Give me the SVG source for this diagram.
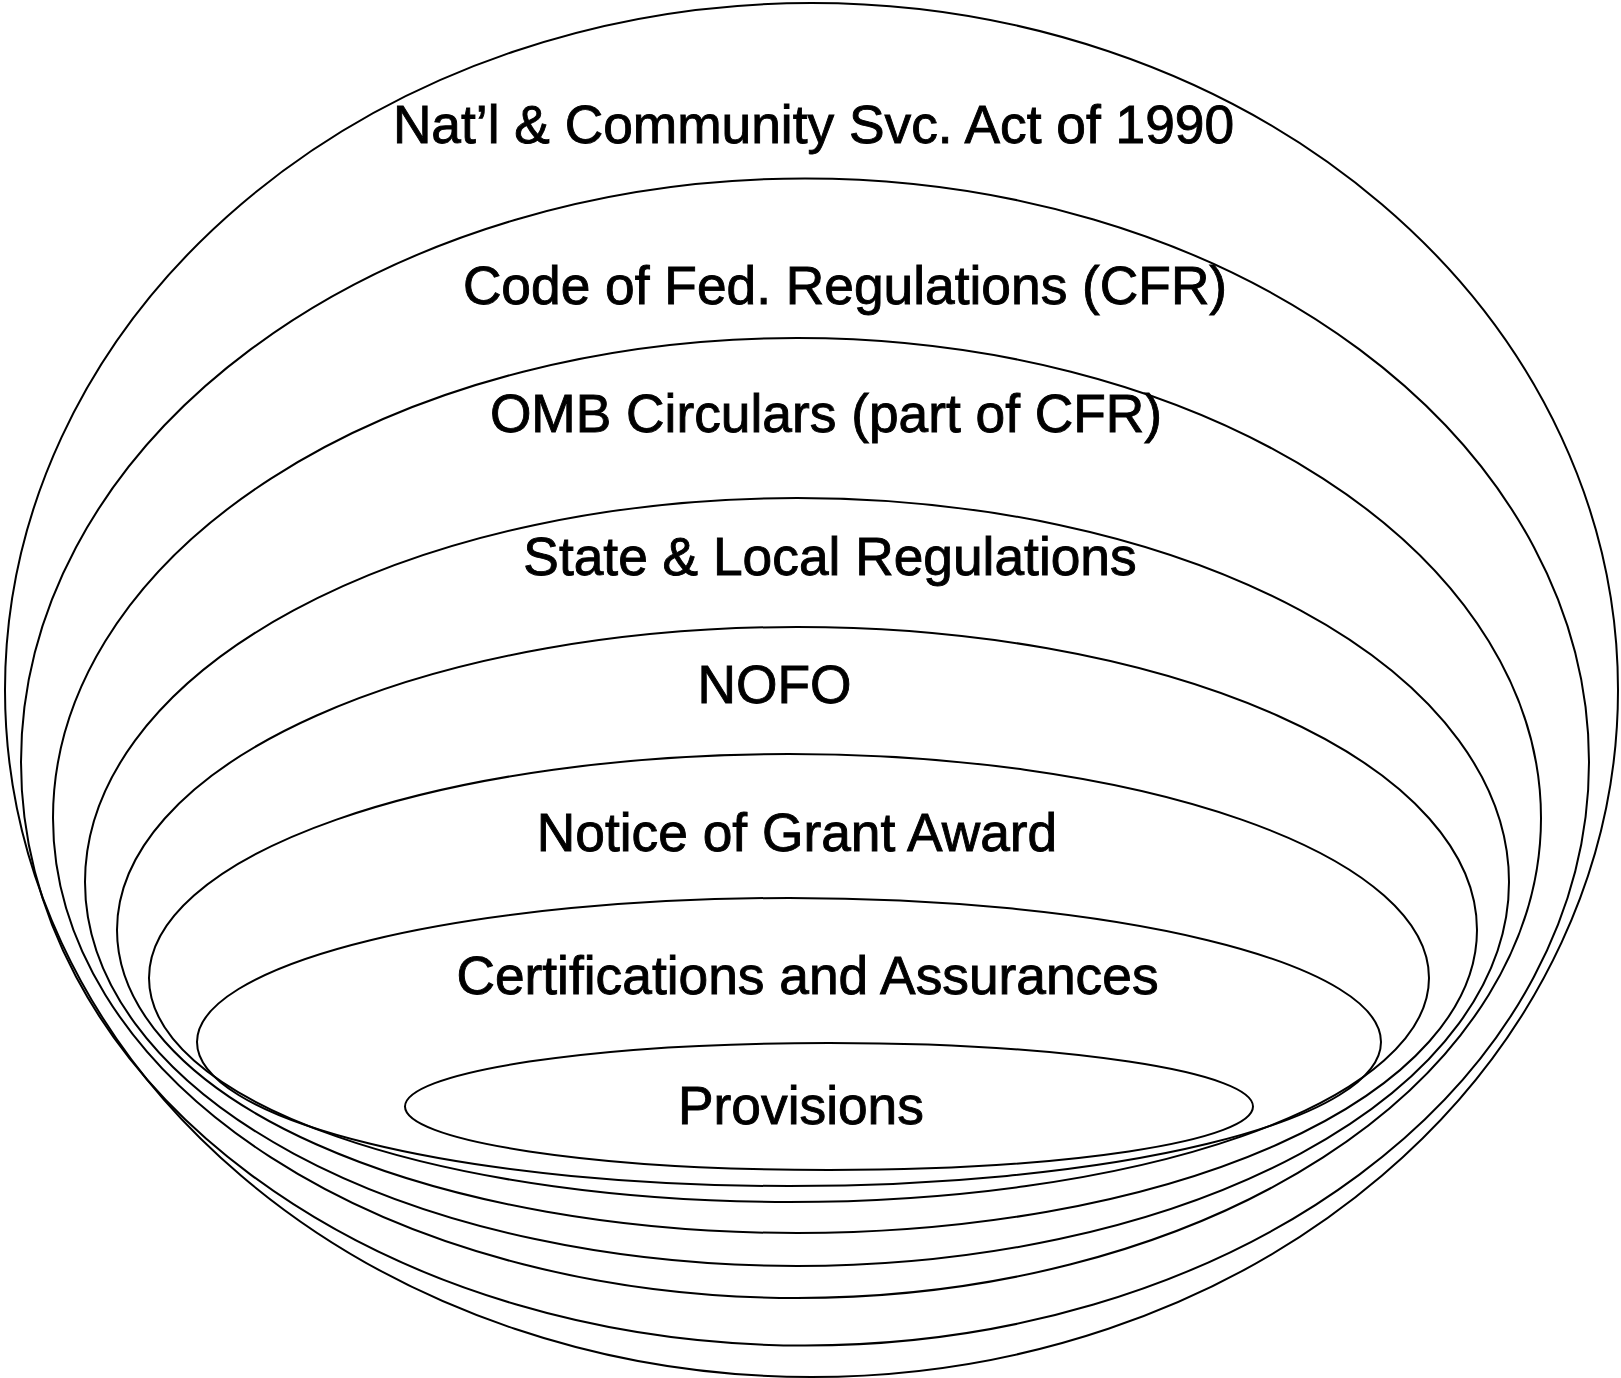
<svg xmlns="http://www.w3.org/2000/svg" width="1621" height="1378" viewBox="0 0 1621 1378">
  <style>
    .ring { fill: none; stroke: #000; stroke-width: 2; }
    .label { font-family: "Liberation Sans", Arial, sans-serif; font-size: 53.3px; fill: #000; stroke: #000; stroke-width: 0.9px; text-anchor: middle; }
  </style>
  <rect x="0" y="0" width="1621" height="1378" fill="#fff"/>

  <!-- nested layers, outermost first -->
  <g id="act">
    <ellipse class="ring" cx="811.5" cy="690" rx="806.5" ry="687"/>
    <text class="label" x="813.5" y="143">Nat’l &amp; Community Svc. Act of 1990</text>
  </g>
  <g id="cfr">
    <ellipse class="ring" cx="805" cy="762" rx="784" ry="583.5"/>
    <text class="label" x="845" y="303.5">Code of Fed. Regulations (CFR)</text>
  </g>
  <g id="omb">
    <ellipse class="ring" cx="797" cy="818" rx="744" ry="480"/>
    <text class="label" x="826" y="431.5">OMB Circulars (part of CFR)</text>
  </g>
  <g id="state-local">
    <ellipse class="ring" cx="797" cy="882" rx="712" ry="384"/>
    <text class="label" x="830" y="574.5">State &amp; Local Regulations</text>
  </g>
  <g id="nofo">
    <ellipse class="ring" cx="797" cy="930" rx="680" ry="303"/>
    <text class="label" x="774.5" y="703">NOFO</text>
  </g>
  <g id="grant-award">
    <ellipse class="ring" cx="789" cy="978" rx="640" ry="224"/>
    <text class="label" x="797" y="851">Notice of Grant Award</text>
  </g>
  <g id="certifications">
    <ellipse class="ring" cx="789" cy="1042" rx="592" ry="144"/>
    <text class="label" x="807.5" y="994">Certifications and Assurances</text>
  </g>
  <g id="provisions">
    <ellipse class="ring" cx="829" cy="1106.5" rx="424" ry="63.5"/>
    <text class="label" x="801" y="1124">Provisions</text>
  </g>

  <g id="connectors"></g>
</svg>
